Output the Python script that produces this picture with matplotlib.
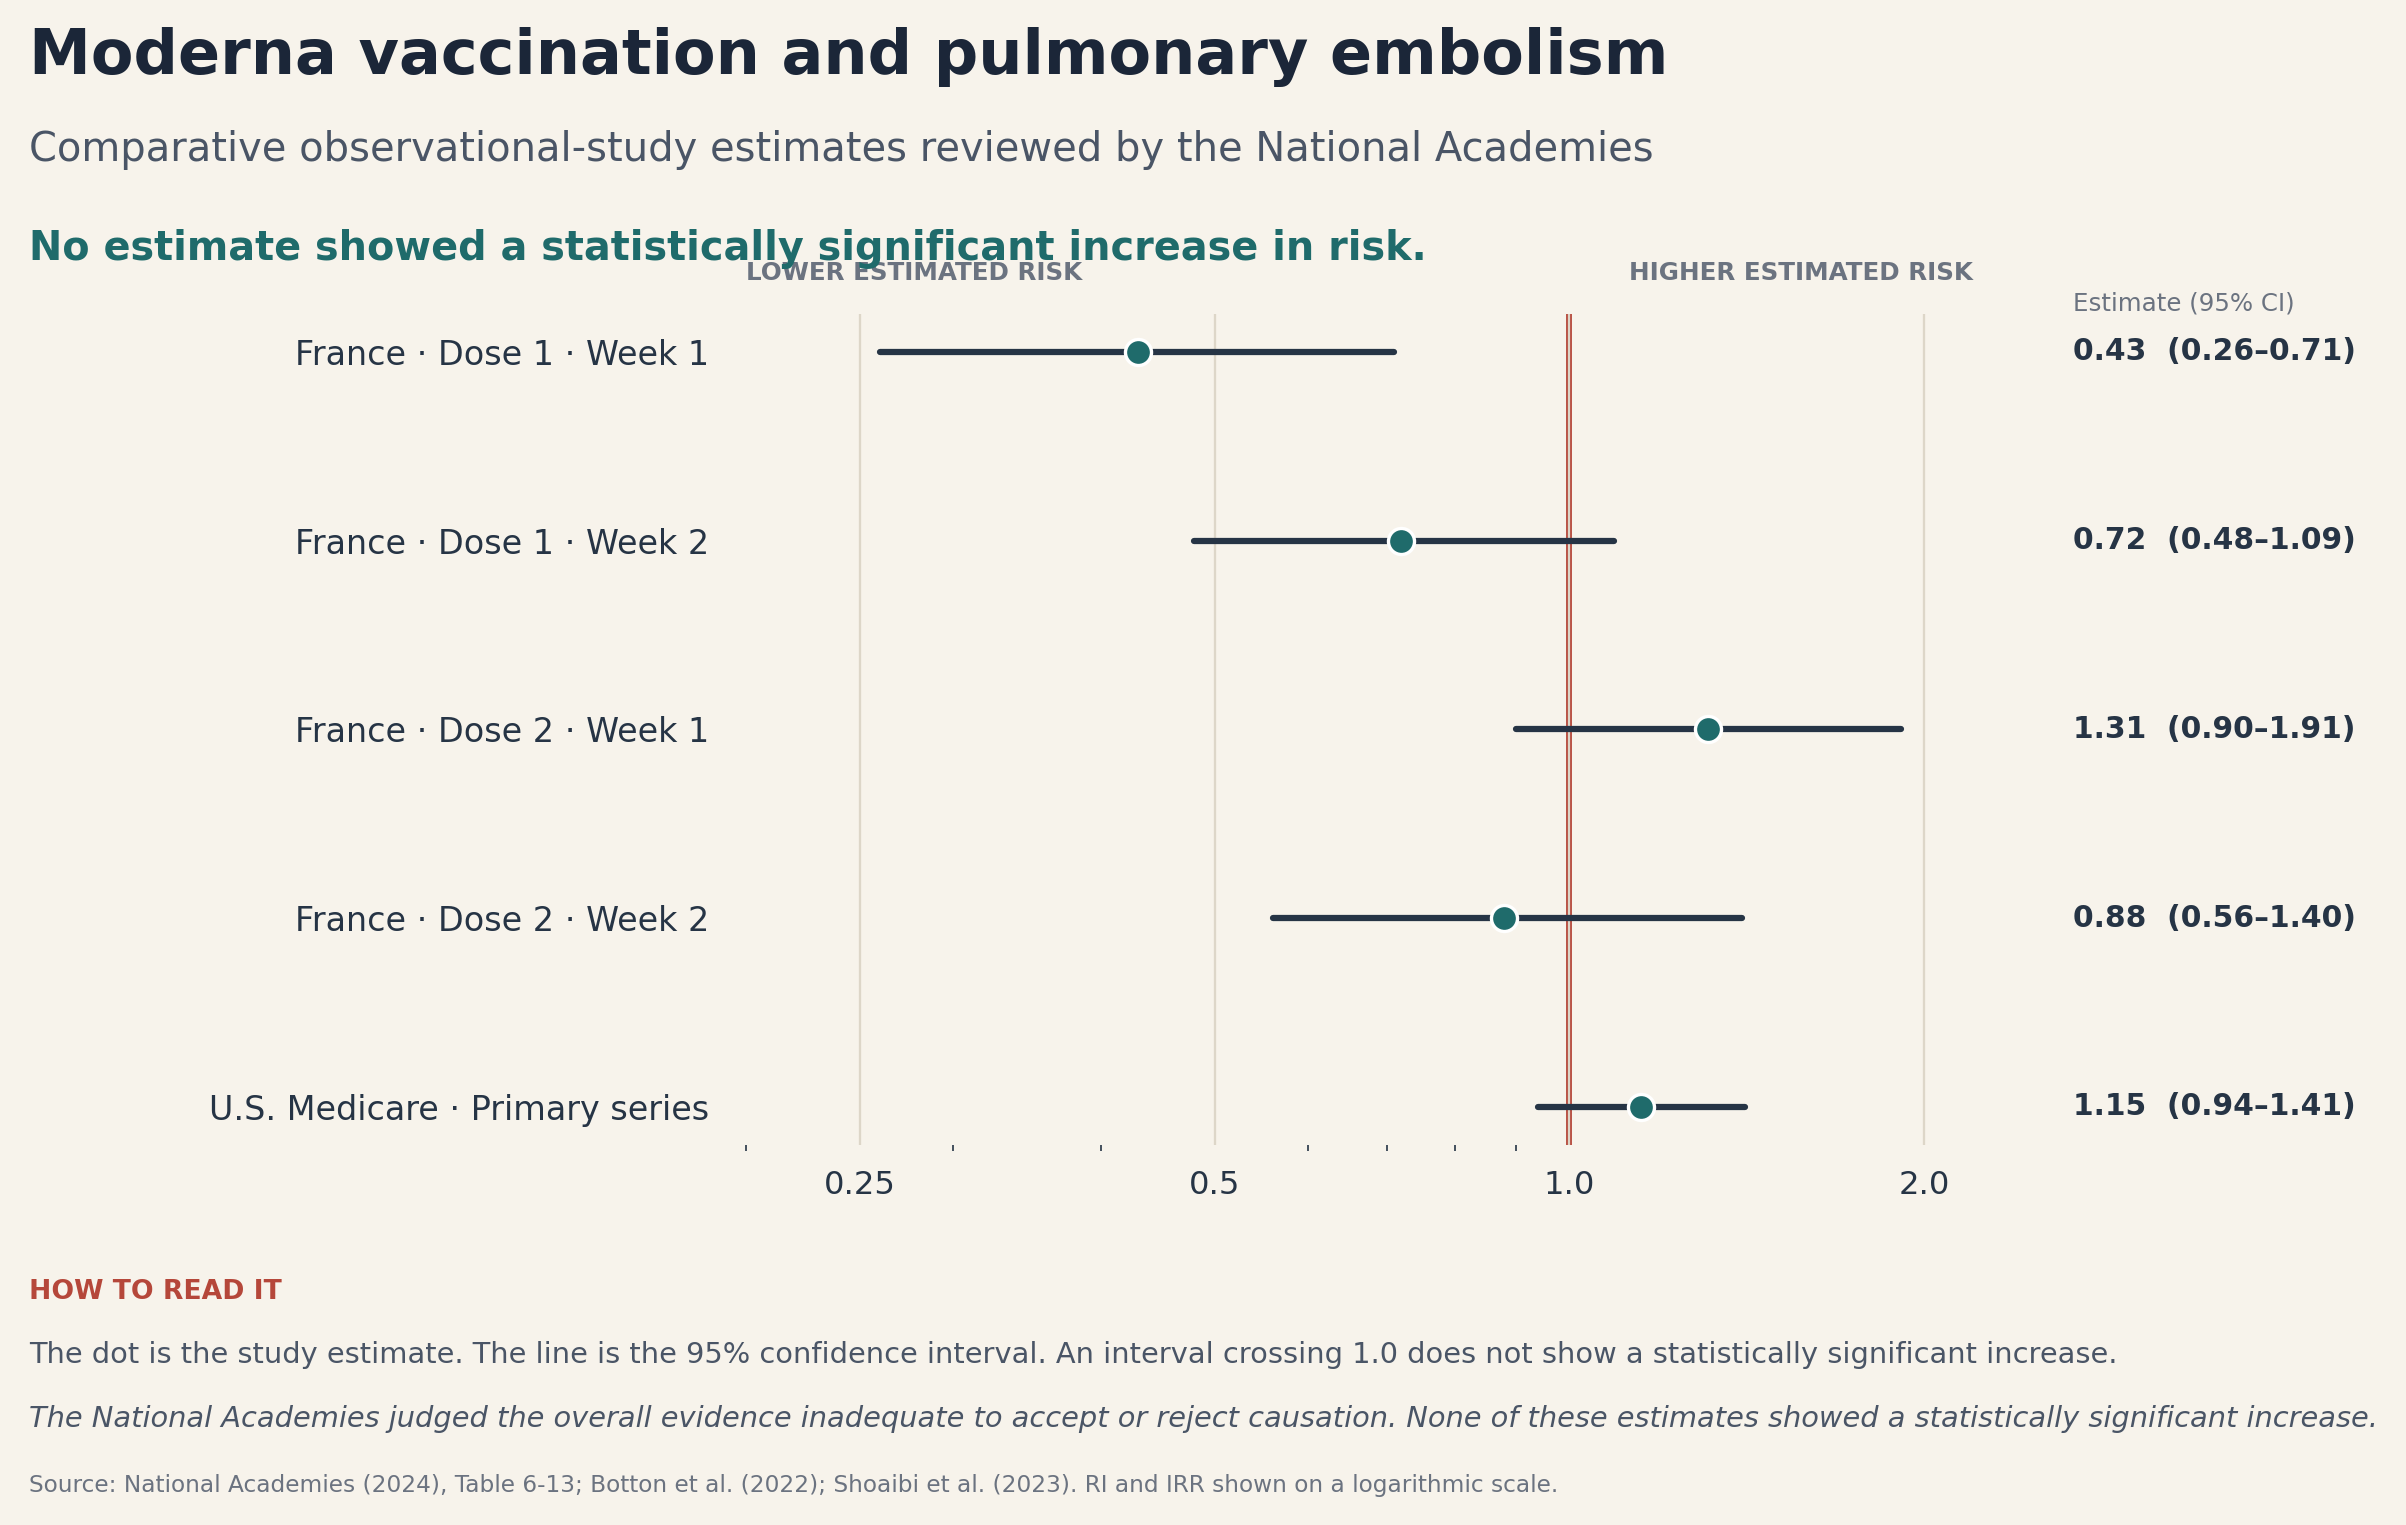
import numpy as np
import matplotlib
matplotlib.use("Agg")
import matplotlib.pyplot as plt
from matplotlib.transforms import blended_transform_factory
from matplotlib.ticker import FixedLocator, NullFormatter

# ---------- data ----------
labels = [
    "France · Dose 1 · Week 1",
    "France · Dose 1 · Week 2",
    "France · Dose 2 · Week 1",
    "France · Dose 2 · Week 2",
    "U.S. Medicare · Primary series",
]
estimates = [0.43, 0.72, 1.31, 0.88, 1.15]
ci_low = [0.26, 0.48, 0.90, 0.56, 0.94]
ci_high = [0.71, 1.09, 1.91, 1.40, 1.41]

major_ticks = [0.25, 0.5, 1.0, 2.0]
major_labels = ["0.25", "0.5", "1.0", "2.0"]
minor_ticks = [0.2, 0.3, 0.4, 0.6, 0.7, 0.8, 0.9]

# ---------- colours ----------
BG = "#f7f3eb"
INK = "#1b2638"
SUB = "#4a5566"
TEAL = "#1f6b6b"
NAVY = "#263445"
GRAY = "#6b7380"
RED = "#b5473a"
GRID = "#ddd6c8"

fig = plt.figure(figsize=(16.04, 10.167), dpi=150, facecolor=BG)
ax = fig.add_axes([0.310, 0.2495, 0.510, 0.5445])
ax.set_facecolor(BG)

y = np.arange(len(labels))
ax.set_xscale("log")
ax.set_xlim(0.2, 2.2)
ax.set_ylim(len(labels) - 1 + 0.2, -0.2)

# reference line at 1.0 (sits under the grid line)
ax.axvline(1.0, color=RED, lw=2.8, zorder=0.3)
for t in major_ticks:
    ax.axvline(t, color=GRID, lw=1.1, zorder=0.5)

for i in range(len(labels)):
    ax.plot([ci_low[i], ci_high[i]], [y[i], y[i]], color=NAVY, lw=3.0,
            solid_capstyle="round", zorder=2)
ax.plot(estimates, y, "o", ms=12.5, color=TEAL, mec="white", mew=1.6,
        zorder=3, linestyle="none")

ax.xaxis.set_major_locator(FixedLocator(major_ticks))
ax.set_xticklabels(major_labels)
ax.xaxis.set_minor_locator(FixedLocator(minor_ticks))
ax.xaxis.set_minor_formatter(NullFormatter())
ax.tick_params(axis="x", which="major", length=0, pad=12, labelsize=15.5,
               labelcolor=NAVY)
ax.tick_params(axis="x", which="minor", length=3, width=0.8, color=NAVY)
ax.set_yticks(y)
ax.set_yticklabels(labels)
ax.tick_params(axis="y", length=0, pad=17.5, labelsize=16, labelcolor=NAVY)
for s in ax.spines.values():
    s.set_visible(False)

# direction labels
ax.text(0.0, 1.05, "LOWER ESTIMATED RISK", transform=ax.transAxes,
        ha="left", va="center", fontsize=11.8, fontweight="bold", color=GRAY)
ax.text(1.0, 1.05, "HIGHER ESTIMATED RISK", transform=ax.transAxes,
        ha="right", va="center", fontsize=11.8, fontweight="bold", color=GRAY)

# estimate column
tr = blended_transform_factory(fig.transFigure, ax.transData)
ax.text(0.8616, 1 - 198 / 994, "Estimate (95% CI)", transform=fig.transFigure,
        ha="left", va="center", fontsize=11.75, color=GRAY)
for i in range(len(labels)):
    ax.text(0.8616, y[i], f"{estimates[i]:.2f}  ({ci_low[i]:.2f}–{ci_high[i]:.2f})",
            transform=tr, ha="left", va="center", fontsize=14.3,
            fontweight="bold", color=NAVY)

# header text
x0 = 19 / 1568
fig.text(x0, 1 - 37 / 994, "Moderna vaccination and pulmonary embolism",
         ha="left", va="center", fontsize=29.8, fontweight="bold", color=INK)
fig.text(x0, 1 - 98 / 994,
         "Comparative observational-study estimates reviewed by the National Academies",
         ha="left", va="center", fontsize=19.2, color=SUB)
fig.text(x0, 1 - 162 / 994,
         "No estimate showed a statistically significant increase in risk.",
         ha="left", va="center", fontsize=19.1, fontweight="bold", color=TEAL)

# footer text
fig.text(x0, 1 - 842 / 994, "HOW TO READ IT", ha="left", va="center",
         fontsize=12.8, fontweight="bold", color=RED)
fig.text(x0, 1 - 883 / 994,
         "The dot is the study estimate. The line is the 95% confidence interval. "
         "An interval crossing 1.0 does not show a statistically significant increase.",
         ha="left", va="center", fontsize=13.85, color=SUB)
fig.text(x0, 1 - 925 / 994,
         "The National Academies judged the overall evidence inadequate to accept or "
         "reject causation. None of these estimates showed a statistically significant increase.",
         ha="left", va="center", fontsize=13.85, style="italic", color=SUB)
fig.text(x0, 1 - 968 / 994,
         "Source: National Academies (2024), Table 6-13; Botton et al. (2022); "
         "Shoaibi et al. (2023). RI and IRR shown on a logarithmic scale.",
         ha="left", va="center", fontsize=11.2, color=GRAY)

fig.savefig("out.png", dpi=150, facecolor=BG)
